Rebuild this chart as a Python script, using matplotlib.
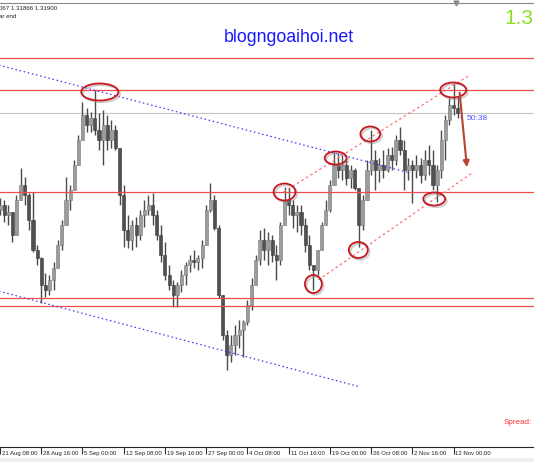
import matplotlib
matplotlib.use("Agg")
import matplotlib.pyplot as plt
from matplotlib.patches import Ellipse, Rectangle
import matplotlib.patheffects as pe
import numpy as np

W, H = 534, 462

# H4 candles
first_open = 1.3093
highs = [1.3105, 1.3103, 1.3098, 1.3091, 1.3108, 1.3135, 1.3126, 1.3110, 1.3111, 1.3058,
         1.3046, 1.3030, 1.3028, 1.3041, 1.3063, 1.3083, 1.3126, 1.3118, 1.3143, 1.3168,
         1.3201, 1.3195, 1.3191, 1.3213, 1.3190, 1.3193, 1.3188, 1.3183, 1.3178, 1.3153,
         1.3118, 1.3088, 1.3083, 1.3086, 1.3093, 1.3103, 1.3108, 1.3110, 1.3093, 1.3078,
         1.3061, 1.3038, 1.3023, 1.3021, 1.3033, 1.3041, 1.3048, 1.3053, 1.3048, 1.3063,
         1.3098, 1.3120, 1.3108, 1.3078, 1.3008, 1.2973, 1.2968, 1.2978, 1.2983, 1.2983,
         1.3003, 1.3025, 1.3048, 1.3073, 1.3075, 1.3071, 1.3068, 1.3058, 1.3081, 1.3116,
         1.3115, 1.3103, 1.3098, 1.3098, 1.3085, 1.3068, 1.3038, 1.3053, 1.3081, 1.3103,
         1.3123, 1.3151, 1.3150, 1.3148, 1.3143, 1.3138, 1.3135, 1.3115, 1.3108, 1.3143,
         1.3173, 1.3153, 1.3145, 1.3153, 1.3155, 1.3156, 1.3168, 1.3176, 1.3163, 1.3145,
         1.3143, 1.3148, 1.3145, 1.3153, 1.3158, 1.3153, 1.3138, 1.3173, 1.3188, 1.3205,
         1.3220, 1.3206]
lows = [1.3088, 1.3081, 1.3078, 1.3061, 1.3068, 1.3103, 1.3098, 1.3073, 1.3051, 1.3038,
        1.3000, 1.3006, 1.3008, 1.3013, 1.3041, 1.3053, 1.3078, 1.3093, 1.3113, 1.3138,
        1.3163, 1.3171, 1.3171, 1.3168, 1.3153, 1.3138, 1.3153, 1.3155, 1.3153, 1.3098,
        1.3056, 1.3055, 1.3053, 1.3056, 1.3063, 1.3076, 1.3088, 1.3078, 1.3063, 1.3041,
        1.3023, 1.3013, 1.2996, 1.2996, 1.3011, 1.3018, 1.3031, 1.3035, 1.3033, 1.3035,
        1.3058, 1.3091, 1.3073, 1.3005, 1.2963, 1.2933, 1.2941, 1.2948, 1.2955, 1.2946,
        1.2978, 1.2993, 1.3018, 1.3038, 1.3043, 1.3038, 1.3041, 1.3023, 1.3038, 1.3080,
        1.3088, 1.3075, 1.3071, 1.3068, 1.3051, 1.3033, 1.3013, 1.3028, 1.3058, 1.3078,
        1.3091, 1.3118, 1.3125, 1.3123, 1.3118, 1.3115, 1.3113, 1.3056, 1.3073, 1.3103,
        1.3128, 1.3113, 1.3121, 1.3125, 1.3131, 1.3133, 1.3138, 1.3148, 1.3113, 1.3123,
        1.3100, 1.3125, 1.3120, 1.3123, 1.3128, 1.3113, 1.3101, 1.3125, 1.3143, 1.3178,
        1.3188, 1.3185]
closes = [1.3098, 1.3088, 1.3091, 1.3068, 1.3103, 1.3118, 1.3108, 1.3083, 1.3053, 1.3045,
          1.3018, 1.3013, 1.3023, 1.3035, 1.3058, 1.3078, 1.3103, 1.3113, 1.3138, 1.3163,
          1.3188, 1.3178, 1.3185, 1.3173, 1.3163, 1.3178, 1.3163, 1.3173, 1.3155, 1.3108,
          1.3073, 1.3063, 1.3078, 1.3068, 1.3088, 1.3093, 1.3098, 1.3088, 1.3068, 1.3048,
          1.3028, 1.3018, 1.3008, 1.3018, 1.3028, 1.3038, 1.3043, 1.3041, 1.3045, 1.3058,
          1.3093, 1.3103, 1.3075, 1.3008, 1.2968, 1.2948, 1.2958, 1.2968, 1.2973, 1.2981,
          1.2998, 1.3018, 1.3043, 1.3063, 1.3053, 1.3063, 1.3048, 1.3043, 1.3078, 1.3103,
          1.3098, 1.3088, 1.3091, 1.3078, 1.3058, 1.3038, 1.3033, 1.3053, 1.3078, 1.3093,
          1.3118, 1.3138, 1.3133, 1.3138, 1.3125, 1.3133, 1.3115, 1.3078, 1.3103, 1.3133,
          1.3143, 1.3133, 1.3138, 1.3133, 1.3148, 1.3143, 1.3163, 1.3153, 1.3133, 1.3138,
          1.3133, 1.3138, 1.3128, 1.3143, 1.3138, 1.3118, 1.3133, 1.3163, 1.3183, 1.3198,
          1.3195, 1.3190]

date_labels = ["21 Aug 08:00", "28 Aug 16:00", "5 Sep 00:00", "12 Sep 08:00",
               "19 Sep 16:00", "27 Sep 00:00", "4 Oct 08:00", "11 Oct 16:00",
               "19 Oct 00:00", "26 Oct 08:00", "2 Nov 16:00", "12 Nov 00:00"]
label_bars = [0, 10, 20, 30, 40, 50, 60, 70, 80, 90, 100, 110]

# horizontal levels
red_levels = [1.3245, 1.3213, 1.3111, 1.3005, 1.2997]
bid_level = 1.3190

# trend lines (bar, price) pairs
blue_upper = [(-2.2, 1.3240), (99.5, 1.3130)]
blue_lower = [(-2.2, 1.3014), (87.4, 1.2916)]
red_upper = [(68.8, 1.3111), (114.0, 1.3228)]
red_lower = [(77.2, 1.3023), (114.8, 1.3131)]

# circled swing points: bar, price, width (bars), height (price)
circles = [(24.2, 1.3211, 9.0, 0.0017), (69.0, 1.3111, 5.3, 0.0017),
           (81.4, 1.3145, 5.3, 0.0013), (89.8, 1.3169, 4.8, 0.0015),
           (109.9, 1.3213, 6.3, 0.0015), (105.3, 1.3104, 5.3, 0.0013),
           (86.9, 1.3053, 4.6, 0.0016), (76.0, 1.3019, 4.1, 0.0018)]

arrow_from = (111.4, 1.3213)
arrow_to = (113.3, 1.3133)

fig = plt.figure(figsize=(W / 100, H / 100), dpi=100)
fig.patches.append(Rectangle((0, 0), 1, 4 / H, transform=fig.transFigure,
                             color="#efefef", zorder=0))
ax = fig.add_axes([0, (H - 447) / H, 1, (447 - 3) / H])
ax.set_xlim(0.24, 129.5)
ax.set_ylim(1.2856, 1.3300)

for s in ["left", "right"]:
    ax.spines[s].set_visible(False)
ax.spines["top"].set_color("#8a8a8a")
ax.spines["bottom"].set_color("#222222")
ax.set_yticks([])
ax.set_xticks(label_bars)
ax.set_xticklabels([])
ax.tick_params(axis="x", direction="out", length=5, width=0.8, color="#333333")

# candles
x = np.arange(len(closes))
c = np.array(closes)
o = np.array([first_open] + closes[:-1])
h = np.maximum(np.array(highs), np.maximum(o, c))
l = np.minimum(np.array(lows), np.minimum(o, c))
up = c >= o
ax.vlines(x, l, h, color="#4a4a4a", lw=1.0, zorder=2)
ax.bar(x[up], (c - o)[up], bottom=o[up], width=0.75, color="#9c9c9c",
       edgecolor="#7a7a7a", lw=0.4, zorder=3)
ax.bar(x[~up], (o - c)[~up], bottom=c[~up], width=0.75, color="#505050",
       edgecolor="#3a3a3a", lw=0.4, zorder=3)

# levels
for lv in red_levels:
    ax.axhline(lv, color="#f24b4b", lw=0.9, zorder=4)
ax.axhline(bid_level, color="#c4c4c4", lw=0.8, zorder=1)

for pts in [blue_upper, blue_lower]:
    ax.plot([pts[0][0], pts[1][0]], [pts[0][1], pts[1][1]], color="#3a3aff",
            lw=0.9, ls=(0, (1.2, 2.2)), zorder=4)
for pts in [red_upper, red_lower]:
    ax.plot([pts[0][0], pts[1][0]], [pts[0][1], pts[1][1]], color="#ff7070",
            lw=0.9, ls=(0, (2, 2.2)), zorder=4)

for cx, cy, cw, chh in circles:
    e = Ellipse((cx, cy), cw, chh, fill=False, edgecolor="#c8161e", lw=1.3, zorder=5)
    e.set_path_effects([pe.SimpleLineShadow(offset=(1.2, -1.2), shadow_color="#8c8c8c",
                                            alpha=0.45), pe.Normal()])
    ax.add_patch(e)

ax.annotate("", xy=arrow_to, xytext=arrow_from,
            arrowprops=dict(arrowstyle="-|>", color="#b4432f", lw=1.5,
                            mutation_scale=9), zorder=6)

# shift marker on the top border
ax.plot([110.65], [1.3300], marker="v", color="#8a8a8a", ms=3.5, clip_on=False)

# date labels
for b, lab in zip(label_bars, date_labels):
    ax.text(b + 0.45, -0.014, lab, transform=ax.get_xaxis_transform(), ha="left",
            va="center", fontsize=4.3, family="Liberation Sans", color="#222222")

def fx(px):
    return px / W

def fy(py):
    return 1 - py / H

fig.text(fx(-1), fy(8), "067 1.31866 1.31900", fontsize=4.4, family="Liberation Sans",
         color="#222222", va="center", ha="left")
fig.text(fx(-1), fy(16), "ar end", fontsize=4.4, family="Liberation Sans",
         color="#222222", va="center", ha="left")
fig.text(fx(289), fy(38), "blogngoaihoi.net", fontsize=12.8, family="Liberation Sans",
         color="#1818ff", va="center", ha="center")
fig.text(fx(504), fy(18), "1.3", fontsize=15, family="Liberation Sans",
         color="#8ae021", va="center", ha="left")
fig.text(fx(460), fy(118), "-", fontsize=6, family="Liberation Sans",
         color="#5050ff", va="center", ha="left")
fig.text(fx(467), fy(118), "50:38", fontsize=6, family="Liberation Sans",
         color="#5050ff", va="center", ha="left")
fig.text(fx(504), fy(422), "Spread:", fontsize=5.8, family="Liberation Sans",
         color="#ff3030", va="center", ha="left")

fig.savefig("out.png", dpi=100)
